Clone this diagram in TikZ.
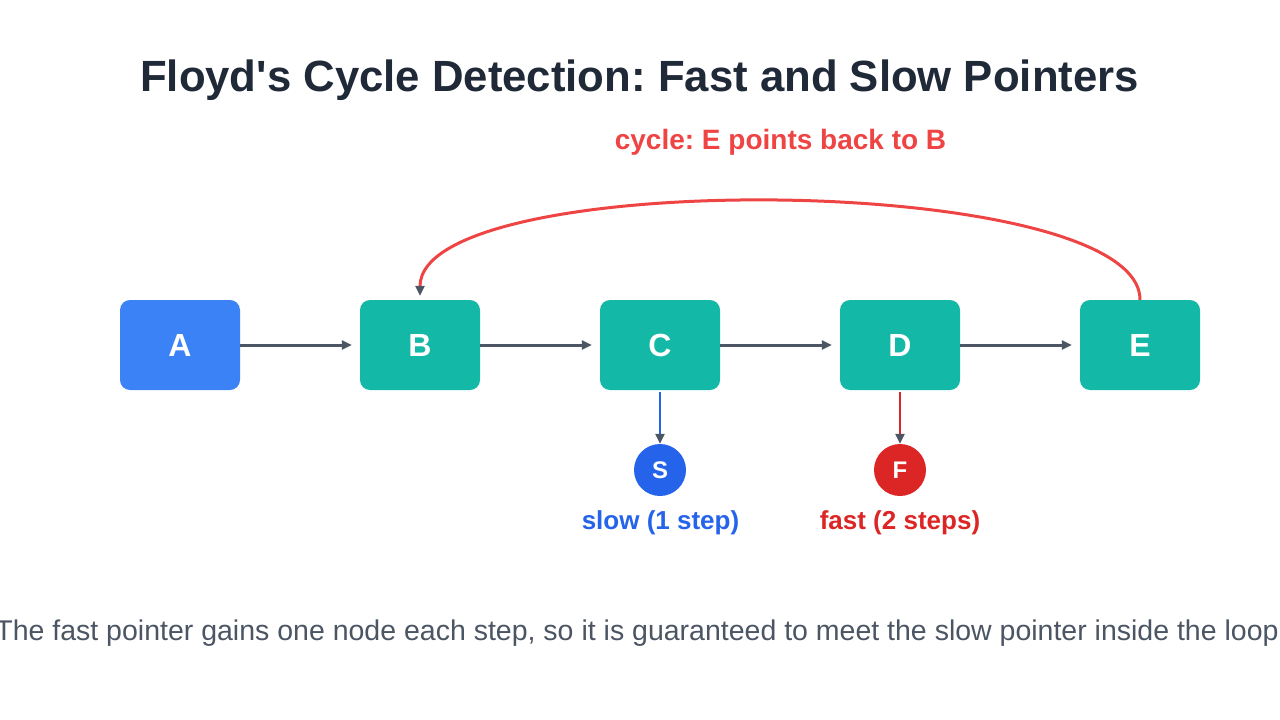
\documentclass[tikz,border=0pt]{standalone}
\usepackage{fontspec}
\setmainfont{Liberation Sans}[Ligatures=TeXOff]
\usetikzlibrary{arrows.meta}
\definecolor{titlec}{HTML}{1F2937}
\definecolor{edgec}{HTML}{4B5563}
\definecolor{cyclec}{HTML}{EF4444}
\definecolor{startc}{HTML}{3B82F6}
\definecolor{nodec}{HTML}{14B8A6}
\definecolor{slowc}{HTML}{2563EB}
\definecolor{fastc}{HTML}{DC2626}
\definecolor{notec}{HTML}{4B5563}
\tikzset{
  listbox/.style={rounded corners=10pt, minimum width=120pt, minimum height=90pt, inner sep=0pt,
    text=white, font=\fontsize{32}{38}\selectfont\bfseries},
  ptr/.style={circle, minimum size=52pt, inner sep=0pt, text=white, font=\fontsize{24}{28}\selectfont\bfseries},
  tip/.style={-{Triangle[length=10pt,width=9pt,color=edgec]}},
  link/.style={tip, draw=edgec, line width=3pt, shorten >=8pt},
  ptrlbl/.style={anchor=base, font=\fontsize{26}{32}\selectfont\bfseries},
}
\frenchspacing
\begin{document}
\begin{tikzpicture}[x=1pt,y=-1pt]
\useasboundingbox (0,0) rectangle (1280,720);
\node[anchor=base, text=titlec, font=\fontsize{43.7}{52}\selectfont\bfseries] (title) at (639.5,91) {Floyd's Cycle Detection: Fast and Slow Pointers};
\node[anchor=base, text=cyclec, font=\fontsize{28}{34}\selectfont\bfseries] (cyclelbl) at (780.5,149) {cycle: E points back to B};

\node[listbox, fill=startc] (A) at (180,345) {A};
\node[listbox, fill=nodec] (B) at (420,345) {B};
\node[listbox, fill=nodec] (C) at (660,345) {C};
\node[listbox, fill=nodec] (D) at (900,345) {D};
\node[listbox, fill=nodec] (E) at (1140,345) {E};

\draw[link] (A.east) -- (B.west);
\draw[link] (B.east) -- (C.west);
\draw[link] (C.east) -- (D.west);
\draw[link] (D.east) -- (E.west);

\draw[tip, draw=cyclec, line width=3pt, shorten >=4pt] (E.north) .. controls (1140,172) and (420,166) .. (B.north);

\node[ptr, fill=slowc] (S) at (660,470) {S};
\node[ptr, fill=fastc] (F) at (900,470) {F};
\draw[tip, draw=slowc, line width=2.5pt, shorten <=2pt] (C.south) -- (S.north);
\draw[tip, draw=fastc, line width=2.5pt, shorten <=2pt] (D.south) -- (F.north);

\node[ptrlbl, text=slowc] (slowlbl) at (660.5,529) {slow (1 step)};
\node[ptrlbl, text=fastc] (fastlbl) at (900,529) {fast (2 steps)};

\node[anchor=base, text=notec, font=\fontsize{28.5}{34}\selectfont] (note) at (641,640) {The fast pointer gains one node each step, so it is guaranteed to meet the slow pointer inside the loop.};
\end{tikzpicture}
\end{document}
